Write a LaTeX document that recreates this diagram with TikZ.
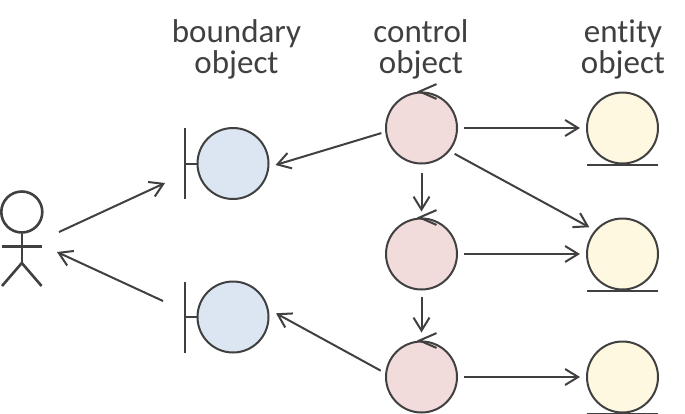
\documentclass[tikz,border=0pt]{standalone}
\usepackage{fontspec}
\setmainfont{Carlito}[Ligatures=NoCommon]
\usetikzlibrary{arrows.meta}
\definecolor{linegray}{HTML}{404040}
\definecolor{bluefill}{HTML}{DCE6F2}
\definecolor{redfill}{HTML}{F2DCDB}
\definecolor{yellowfill}{HTML}{FFF8E1}
\tikzset{
  objcircle/.style={draw=linegray,line width=1pt,circle,inner sep=0pt,minimum size=35.5pt},
  boundaryobj/.style={objcircle,fill=bluefill},
  controlobj/.style={objcircle,fill=redfill},
  entityobj/.style={objcircle,fill=yellowfill},
  objline/.style={draw=linegray,line width=1pt},
  msgarrow/.style={objline,-{Straight Barb[length=6.5pt,width=8pt]}},
  actorline/.style={draw=linegray,line width=1.3pt},
  headlabel/.style={text=linegray,font=\fontsize{16.5}{15.5}\selectfont,align=center}
}
\begin{document}
\begin{tikzpicture}[x=1pt,y=-1pt]
  \useasboundingbox (0,0) rectangle (342.5,206.5);

  \node[headlabel] (boundarylabel) at (118.25,24.6) {boundary\\object};
  \node[headlabel] (controllabel) at (210.5,24.6) {control\\object};
  \node[headlabel] (entitylabel) at (311.5,24.6) {entity\\object};

  % actor
  \node[circle,actorline,inner sep=0pt,minimum size=20.5pt] (actorhead) at (10.9,106) {};
  \coordinate (actorhip) at (10.9,131.5);
  \coordinate (actorarml) at (0.8,123.2);
  \coordinate (actorarmr) at (20.8,123.2);
  \coordinate (actorfootl) at (1,143);
  \coordinate (actorfootr) at (20.8,143);
  \coordinate (actorout) at (29.5,116);
  \coordinate (actorin) at (28.5,126);
  \draw[actorline] (actorhead.south) -- (actorhip);
  \draw[actorline] (actorarml) -- (actorarmr);
  \draw[actorline] (actorfootl) -- (actorhip) -- (actorfootr);

  % boundary objects
  \node[boundaryobj] (boundarya) at (116.5,81.75) {};
  \node[boundaryobj] (boundaryb) at (116.5,158.5) {};
  \foreach \b in {boundarya,boundaryb} {
    \coordinate (\b bar) at ([xshift=-5.75pt]\b.west);
    \draw[objline] (\b.west) -- (\b bar);
    \draw[objline] ([yshift=17.75pt]\b bar) -- ([yshift=-17.75pt]\b bar);
  }

  % control objects
  \node[controlobj] (controla) at (210.75,64) {};
  \node[controlobj] (controlb) at (210.75,127) {};
  \node[controlobj] (controlc) at (210.75,188.5) {};
  \foreach \c in {controla,controlb,controlc} {
    \draw[objline] ([shift={(7.5pt,3.7pt)}]\c.north) -- ([xshift=-1pt]\c.north) -- ([shift={(7.5pt,-3.7pt)}]\c.north);
  }

  % entity objects
  \node[entityobj] (entitya) at (311.25,64) {};
  \node[entityobj] (entityb) at (311.25,127) {};
  \node[entityobj] (entityc) at (311.25,188.5) {};
  \foreach \e in {entitya,entityb,entityc} {
    \draw[objline] ([xshift=-17.75pt]\e.south) -- ([xshift=17.75pt]\e.south);
  }

  % messages
  \coordinate (boundaryain) at (82.5,91.5);
  \coordinate (boundarybout) at (81.5,150.5);
  \draw[msgarrow] (actorout) -- (boundaryain);
  \draw[msgarrow] (boundarybout) -- (actorin);
  \draw[msgarrow] ([xshift=-2pt]controla.188) -- ([shift={(3pt,-0.75pt)}]boundarya.east);
  \draw[msgarrow] ([xshift=-2.4pt]controlc.170) -- ([shift={(3.25pt,1.85pt)}]boundaryb.east);
  \draw[msgarrow] ([xshift=3pt]controla.east) -- ([xshift=-3pt]entitya.west);
  \draw[msgarrow] ([xshift=3pt]controlb.east) -- ([xshift=-3pt]entityb.west);
  \draw[msgarrow] ([xshift=3pt]controlc.east) -- ([xshift=-3pt]entityc.west);
  \draw[msgarrow] ([shift={(2.2pt,-1.7pt)}]controla.-38) -- ([shift={(-2.4pt,1.9pt)}]entityb.141);
  \draw[msgarrow] ([yshift=-4pt]controla.south) -- ([yshift=3pt]controlb.north);
  \draw[msgarrow] ([yshift=-3.25pt]controlb.south) -- ([yshift=4pt]controlc.north);
\end{tikzpicture}
\end{document}
